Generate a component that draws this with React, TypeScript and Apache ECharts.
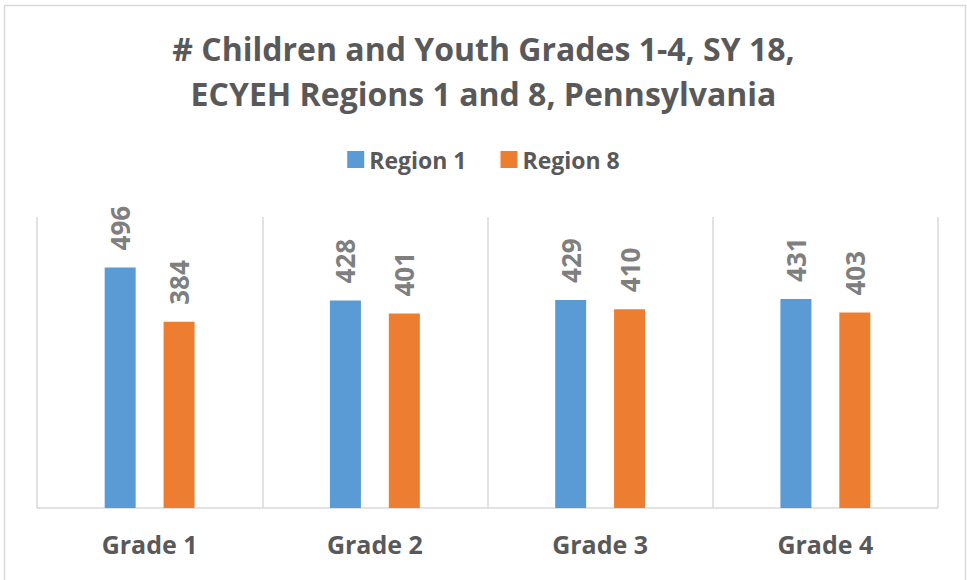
import React, { useEffect, useRef } from "react";
import * as echarts from "echarts";

const titleLines = ["# Children and Youth Grades 1-4, SY 18,", "ECYEH Regions 1 and 8, Pennsylvania"];
const categories = ["Grade 1", "Grade 2", "Grade 3", "Grade 4"];
const seriesNames = ["Region 1", "Region 8"];
const region1 = [496, 428, 429, 431];
const region8 = [384, 401, 410, 403];
const colors = ["#5b9bd5", "#ed7d31"];

const FONT = "'Open Sans', 'DejaVu Sans', sans-serif";

export default function App() {
  const ref = useRef<HTMLDivElement>(null);
  useEffect(() => {
    if (!ref.current) return;
    const chart = echarts.init(ref.current, null, { renderer: "svg" });
    const label = {
      show: true,
      position: "top",
      rotate: 90,
      align: "left",
      verticalAlign: "middle",
      distance: 17,
      color: "#7f7f7f",
      fontFamily: FONT,
      fontWeight: "bold",
      fontSize: 26,
    };
    chart.setOption({
      animation: false,
      backgroundColor: "#ffffff",
      color: colors,
      title: {
        text: titleLines.join("\n"),
        left: "center",
        top: 21,
        textStyle: {
          color: "#595959",
          fontFamily: FONT,
          fontWeight: "bold",
          fontSize: 32,
          lineHeight: 45,
        },
      },
      legend: {
        top: 143,
        left: "center",
        itemWidth: 17,
        itemHeight: 17,
        itemGap: 34,
        icon: "rect",
        textStyle: {
          color: "#595959",
          fontFamily: FONT,
          fontWeight: "bold",
          fontSize: 23,
        },
        data: seriesNames,
      },
      grid: { left: 37, right: 29, top: 217, bottom: 72, containLabel: false },
      xAxis: {
        type: "category",
        data: categories,
        axisLine: { lineStyle: { color: "#d9d9d9", width: 1.5 } },
        axisTick: { show: false },
        splitLine: { show: true, lineStyle: { color: "#d9d9d9", width: 1.5 } },
        axisLabel: {
          color: "#595959",
          fontFamily: FONT,
          fontWeight: "bold",
          fontSize: 25,
          margin: 23,
        },
      },
      yAxis: {
        type: "value",
        min: 0,
        max: 600,
        show: false,
        splitLine: { show: false },
      },
      series: [
        {
          name: seriesNames[0],
          type: "bar",
          data: region1,
          barWidth: 31,
          barGap: "90%",
          label,
        },
        {
          name: seriesNames[1],
          type: "bar",
          data: region8,
          barWidth: 31,
          barGap: "90%",
          label,
        },
      ],
      graphic: [
        {
          type: "rect",
          shape: { x: 4.5, y: 5.5, width: 961, height: 590 },
          style: { fill: "none", stroke: "#d9d9d9", lineWidth: 1.5 },
          silent: true,
        },
      ],
    });
    return () => chart.dispose();
  }, []);
  return (
    <div
      ref={ref}
      style={{ position: "fixed", left: 0, top: 0, width: 967, height: 580 }}
    />
  );
}
